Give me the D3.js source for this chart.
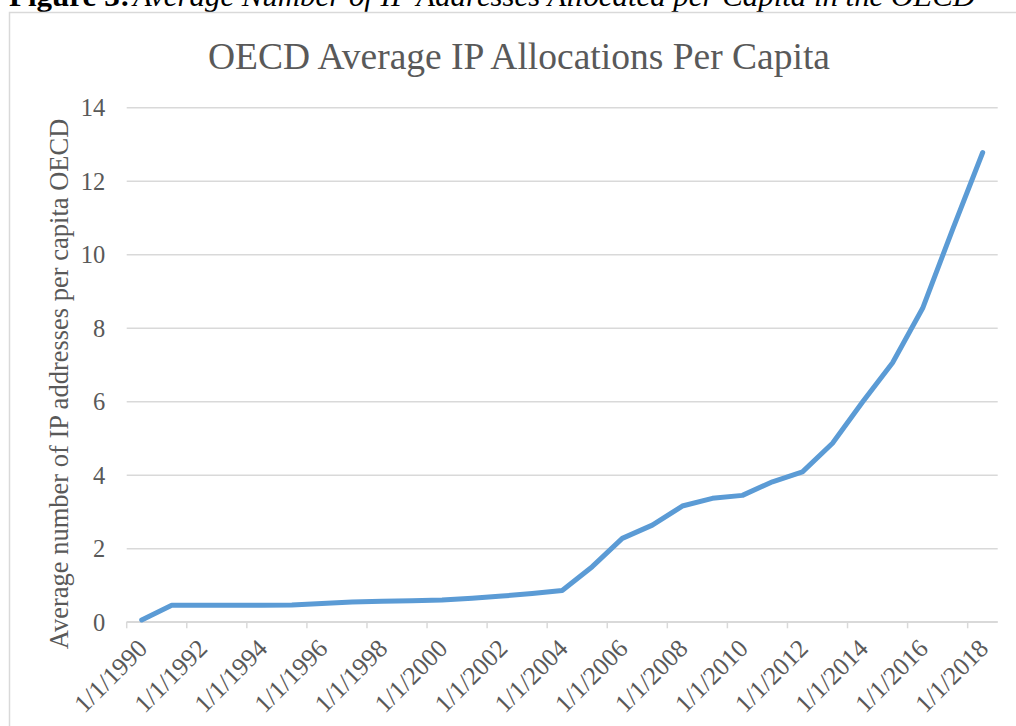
<!DOCTYPE html>
<html>
<head>
<meta charset="utf-8">
<script src="https://cdn.jsdelivr.net/npm/d3@7"></script>
<style>
  html, body { margin: 0; padding: 0; background: #fff; }
  svg { display: block; }
  text { font-family: "Liberation Serif", "Times New Roman", serif; }
</style>
</head>
<body>
<svg id="chart" width="1016" height="726"></svg>
<script>
const categories = ["1/1/1990","1/1/1991","1/1/1992","1/1/1993","1/1/1994","1/1/1995","1/1/1996","1/1/1997","1/1/1998","1/1/1999","1/1/2000","1/1/2001","1/1/2002","1/1/2003","1/1/2004","1/1/2005","1/1/2006","1/1/2007","1/1/2008","1/1/2009","1/1/2010","1/1/2011","1/1/2012","1/1/2013","1/1/2014","1/1/2015","1/1/2016","1/1/2017","1/1/2018"];
const values = [0.05,0.45,0.45,0.45,0.45,0.46,0.50,0.54,0.56,0.57,0.59,0.64,0.70,0.77,0.85,1.50,2.27,2.63,3.15,3.36,3.44,3.81,4.08,4.86,5.98,7.05,8.53,10.68,12.77];
const yTicks = [0,2,4,6,8,10,12,14];
const xLabelCategories = categories.filter((c, i) => i % 2 === 0);
const titleText = "OECD Average IP Allocations Per Capita";
const yAxisTitle = "Average number of IP addresses per capita OECD";
const captionBold = "Figure 3:";
const captionItalic = "Average Number of IP Addresses Allocated per Capita in the OECD";

const svg = d3.select("#chart");
const plotLeft = 126.7, plotRight = 997.7, plotTop = 107.3, plotBottom = 621.8;
const grey = "#595959", gridColor = "#d9d9d9";

// caption (cut off at top, as in the reference)
svg.append("text").attr("x", 9).attr("y", 5.5)
  .attr("font-size", 30).attr("font-weight", "bold").attr("fill", "#000")
  .attr("textLength", 121).attr("lengthAdjust", "spacingAndGlyphs")
  .text(captionBold);
svg.append("text").attr("x", 133).attr("y", 5.5)
  .attr("font-size", 30).attr("font-style", "italic").attr("fill", "#000")
  .attr("textLength", 842).attr("lengthAdjust", "spacingAndGlyphs")
  .text(captionItalic);

// chart frame
svg.append("rect").attr("x", 9.5).attr("y", 12.5).attr("width", 1100).attr("height", 800)
  .attr("fill", "none").attr("stroke", gridColor).attr("stroke-width", 1.5);

const x = d3.scaleBand().domain(categories).range([plotLeft, plotRight]).padding(0);
const y = d3.scaleLinear().domain([0, 14]).range([plotBottom, plotTop]);
const bw = x.bandwidth();

// y axis with gridlines
const yAxis = d3.axisLeft(y).tickValues(yTicks).tickSize(-(plotRight - plotLeft)).tickPadding(21.5);
const gy = svg.append("g").attr("transform", `translate(${plotLeft},0)`).call(yAxis);
gy.select(".domain").remove();
gy.selectAll(".tick line").attr("stroke", gridColor).attr("stroke-width", 1.5);
gy.selectAll(".tick text").attr("fill", grey).attr("font-size", 24.5)
  .attr("font-family", "Liberation Serif").attr("dy", "0.34em");

// x axis line + tick marks at category boundaries
svg.append("line").attr("x1", plotLeft).attr("x2", plotRight).attr("y1", plotBottom).attr("y2", plotBottom)
  .attr("stroke", gridColor).attr("stroke-width", 1.5);
svg.append("g").selectAll("line").data(xLabelCategories).join("line")
  .attr("x1", d => x(d)).attr("x2", d => x(d))
  .attr("y1", plotBottom).attr("y2", plotBottom + 6.5)
  .attr("stroke", gridColor).attr("stroke-width", 1.5);

// x labels rotated
svg.append("g").selectAll("text").data(xLabelCategories).join("text")
  .attr("transform", d => `translate(${x(d) + bw / 2 + 7},650) rotate(-45)`)
  .attr("text-anchor", "end").attr("fill", grey).attr("font-size", 25.5)
  .text(d => d);

// line
const line = d3.line()
  .x((d, i) => x(categories[i]) + bw / 2)
  .y(d => y(d));
svg.append("path").datum(values).attr("d", line)
  .attr("fill", "none").attr("stroke", "#5b9bd5").attr("stroke-width", 5)
  .attr("stroke-linecap", "round").attr("stroke-linejoin", "round");

// title
svg.append("text").attr("x", 519).attr("y", 69).attr("text-anchor", "middle")
  .attr("font-size", 37).attr("fill", grey)
  .attr("textLength", 622).attr("lengthAdjust", "spacingAndGlyphs")
  .text(titleText);

// y axis title
svg.append("text").attr("transform", "translate(68,384) rotate(-90)")
  .attr("text-anchor", "middle").attr("font-size", 26.5).attr("fill", grey)
  .text(yAxisTitle);
</script>
</body>
</html>
